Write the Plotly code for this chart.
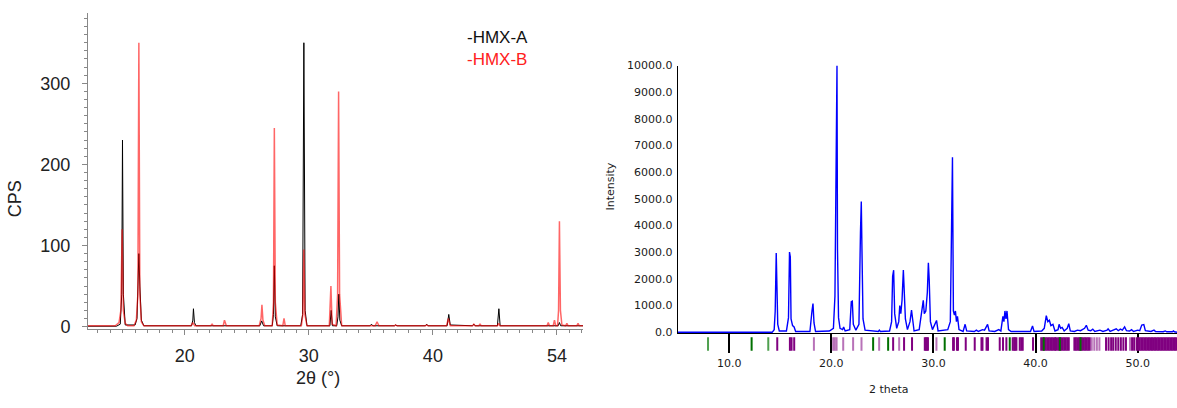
import plotly.graph_objects as go

# ---------------- Left panel: HMX-A / HMX-B (CPS vs 2theta) ----------------
hmx_a_2theta = [12.2, 14.5, 14.8, 14.92, 14.98, 15.05, 15.2, 16.0, 16.15, 16.25, 16.3, 16.38, 16.5, 16.7,
                20.55, 20.65, 20.7, 20.78, 20.9, 26.05, 26.2, 26.35, 27.05, 27.15, 27.22, 27.3, 27.45,
                29.35, 29.5, 29.6, 29.7, 29.85, 31.7, 31.8, 31.9, 32.25, 32.35, 32.42, 32.5, 32.65,
                34.95, 35.05, 35.15, 36.9, 37.0, 37.1, 39.4, 39.5, 39.6, 41.15, 41.28, 41.4,
                43.2, 43.3, 43.4, 45.2, 45.32, 45.42, 50.1, 50.2, 50.3, 52.1]
hmx_a_cps = [0.5, 0.5, 3, 40, 230, 40, 2, 2, 10, 60, 90, 50, 8, 1,
             1, 8, 22, 5, 1, 1, 7, 1, 1, 15, 75, 12, 1,
             1, 15, 350, 20, 1, 1, 20, 1, 1, 12, 40, 8, 1,
             1, 3, 1, 1, 2, 1, 1, 3, 1, 1, 15, 2,
             1, 3, 1, 1, 22, 1, 1, 5, 1, 1]

hmx_b_2theta = [12.2, 14.4, 14.7, 14.85, 14.95, 15.05, 15.2, 15.4, 15.9, 16.1, 16.22, 16.3, 16.38, 16.5, 16.7,
                20.5, 20.65, 20.8, 22.1, 22.2, 22.3, 23.1, 23.2, 23.35,
                26.0, 26.15, 26.22, 26.3, 26.45, 27.05, 27.15, 27.22, 27.3, 27.45, 27.9, 28.0, 28.1,
                29.4, 29.52, 29.6, 29.68, 29.85, 31.65, 31.78, 31.88, 32.2, 32.32, 32.4, 32.48, 32.65,
                35.35, 35.5, 35.65, 36.9, 37.0, 37.1, 39.4, 39.5, 39.6, 41.1, 41.25, 41.4,
                43.2, 43.3, 43.4, 43.7, 43.8, 43.9, 45.2, 45.3, 45.4,
                49.2, 49.3, 49.4, 49.7, 49.8, 49.9, 50.05, 50.13, 50.2, 50.28, 50.4,
                50.7, 50.8, 50.9, 51.6, 51.7, 51.8, 52.1]
hmx_b_cps = [1, 1, 5, 20, 120, 20, 4, 1, 1, 8, 40, 350, 40, 6, 1,
             1, 5, 1, 1, 3, 1, 1, 8, 1,
             1, 10, 27, 8, 1, 1, 30, 245, 30, 2, 1, 10, 1,
             1, 15, 95, 15, 1, 1, 50, 3, 1, 40, 290, 40, 1,
             1, 6, 1, 1, 2, 1, 1, 2, 1, 1, 10, 1,
             1, 3, 1, 1, 3, 1, 1, 4, 1,
             1, 5, 1, 1, 8, 1, 1, 20, 130, 20, 2,
             1, 4, 1, 1, 4, 1, 1]

left_ytick_vals = [0, 100, 200, 300]
left_xtick_vals = [20, 30, 40, 50]
left_xtick_text = ["20", "30", "40", "54"]

# ---------------- Right panel: Intensity vs 2 theta ----------------
pattern_2theta = [4.95, 14.2, 14.4, 14.5, 14.6, 14.65, 14.75, 14.9, 15.6, 15.8, 15.9, 15.98, 16.05, 16.2, 16.35, 16.5,
                  17.9, 18.1, 18.2, 18.3, 18.45, 19.8, 20.2, 20.35, 20.48, 20.55, 20.6, 20.7, 20.85, 21.1, 21.2, 21.35,
                  21.8, 21.95, 22.05, 22.15, 22.4, 22.7, 22.85, 22.93, 23.0, 23.1, 23.3, 24.6, 24.7, 24.8,
                  25.7, 25.9, 26.0, 26.1, 26.2, 26.4, 26.6, 26.7, 26.8, 26.92, 27.05, 27.15, 27.25, 27.45,
                  27.7, 27.85, 27.95, 28.1, 28.6, 28.9, 29.0, 29.1, 29.25, 29.4, 29.5, 29.58, 29.7, 29.9,
                  30.2, 30.3, 30.45, 31.4, 31.65, 31.78, 31.86, 31.95, 32.05, 32.15, 32.25, 32.35, 32.5,
                  32.9, 33.1, 33.25, 34.0, 34.2, 34.4, 34.8, 35.0, 35.3, 35.45, 36.0, 36.4, 36.6,
                  36.8, 36.9, 37.0, 37.1, 37.2, 37.35, 37.6, 39.5, 39.7, 39.85, 40.6, 40.85, 41.05, 41.2,
                  41.35, 41.5, 41.7, 41.9, 42.2, 42.3, 42.45, 42.6, 42.8, 43.1, 43.25, 43.4, 43.8, 44.1,
                  44.4, 44.8, 44.97, 45.15, 45.4, 45.6, 45.8, 46.3, 46.6, 47.0, 47.1, 47.3, 47.7, 47.9,
                  48.1, 48.3, 48.5, 48.72, 48.9, 49.2, 49.4, 49.6, 50.0, 50.2, 50.4, 50.6, 50.75, 51.0,
                  51.3, 51.6, 51.75, 52.5, 52.7, 52.85, 53.4, 53.5, 53.6, 53.85]
pattern_intensity = [0, 0, 100, 800, 2970, 2170, 300, 50, 50, 550, 3010, 2820, 500, 250, 200, 30,
                     30, 800, 1080, 350, 30, 50, 150, 1350, 10000, 10000, 3100, 550, 150, 100, 200, 50,
                     100, 1150, 1170, 300, 80, 300, 3750, 4900, 3000, 500, 80, 30, 80, 30,
                     50, 400, 2100, 2330, 700, 150, 400, 1000, 700, 1200, 2330, 1530, 500, 100,
                     400, 830, 500, 50, 100, 1100, 1200, 700, 800, 1500, 2610, 2000, 400, 100,
                     350, 445, 50, 100, 400, 4680, 6560, 800, 650, 800, 400, 600, 100,
                     30, 300, 50, 30, 80, 30, 100, 80, 300, 50, 30, 100, 50,
                     600, 400, 800, 500, 800, 100, 30, 30, 240, 30, 50, 150, 625, 400,
                     450, 250, 300, 50, 100, 300, 150, 180, 50, 150, 325, 50, 30, 80,
                     60, 150, 265, 80, 60, 120, 30, 80, 30, 80, 130, 30, 80, 130,
                     60, 120, 80, 200, 60, 50, 100, 30, 80, 60, 270, 290, 60, 40,
                     30, 80, 30, 20, 50, 20, 20, 50, 20, 0]

right_ytick_vals = [0, 1000, 2000, 3000, 4000, 5000, 6000, 7000, 8000, 9000, 10000]
right_xtick_vals = [10, 20, 30, 40, 50]

# reflection markers
refl_green_dark = [12.19, 24.09, 25.56, 31.1, 37.47, 40.8, 42.38, 44.4]
refl_green_light = [7.92, 13.82]
refl_purple_light = [18.29, 20.18, 20.34, 20.51, 21.16, 22.13, 22.95, 24.68, 26.64, 30.29,
                     45.5, 45.75, 46.0, 46.25, 49.25]
refl_purple_dark = [14.70, 15.94, 16.1, 16.36, 26.05, 27.12, 27.9, 29.15, 29.25, 29.35, 29.46,
                    31.92, 32.0, 32.3, 32.4, 33.16, 34.04, 34.7, 34.8, 35.2, 35.34, 36.49, 36.81, 37.14,
                    37.76, 37.9, 38.0, 38.12, 38.45, 38.6, 38.74, 39.75,
                    40.55, 40.7, 40.85, 41.0, 41.15, 41.3, 41.45, 41.6, 41.75, 41.9, 42.0,
                    42.2, 42.35, 42.5, 42.65, 42.8, 42.95, 43.1, 43.25,
                    43.8, 43.95, 44.1, 44.25, 44.4, 44.55, 44.7, 44.85, 45.0, 45.15, 45.3,
                    46.9, 47.15, 47.4, 47.6, 47.85, 48.1, 48.35, 48.6, 48.85, 49.45, 49.65,
                    49.9, 50.05, 50.2, 50.35, 50.5, 50.65, 50.8, 50.95, 51.1, 51.25, 51.4, 51.55,
                    51.7, 51.85, 52.0, 52.15, 52.3, 52.45, 52.6, 52.75, 52.9, 53.05, 53.2, 53.35,
                    53.5, 53.65, 53.8]

W, H = 1177, 408
fig = go.Figure()

# left traces
fig.add_trace(go.Scatter(x=hmx_a_2theta, y=hmx_a_cps, mode="lines",
                         line=dict(color="black", width=1), xaxis="x", yaxis="y", showlegend=False))
fig.add_trace(go.Scatter(x=hmx_b_2theta, y=hmx_b_cps, mode="lines",
                         line=dict(color="rgba(255,0,0,0.6)", width=1.5), xaxis="x", yaxis="y", showlegend=False))

# right trace
fig.add_trace(go.Scatter(x=pattern_2theta, y=pattern_intensity, mode="lines",
                         line=dict(color="#0000ff", width=1.4), xaxis="x2", yaxis="y2", showlegend=False))

def marks(xs, color):
    return go.Scatter(x=xs, y=[0.5] * len(xs), mode="markers", xaxis="x3", yaxis="y3",
                      marker=dict(symbol="line-ns", size=13, line=dict(color=color, width=2)),
                      showlegend=False, hoverinfo="x")

fig.add_trace(marks(refl_purple_light, "#b872b8"))
fig.add_trace(marks(refl_purple_dark, "#800080"))
fig.add_trace(marks(refl_green_light, "#4fa04f"))
fig.add_trace(marks(refl_green_dark, "#007000"))

left_font = dict(family="Liberation Sans, Arial", size=18, color="#222")
right_font = dict(family="DejaVu Sans, Verdana", size=11, color="#1a1a1a")

fig.update_layout(
    width=W, height=H, margin=dict(l=0, r=0, t=0, b=0),
    paper_bgcolor="white", plot_bgcolor="white",
    xaxis=dict(domain=[88 / W, 583 / W], range=[12.2, 52.1], anchor="y",
               showline=True, linecolor="#888", linewidth=1, showgrid=False, zeroline=False,
               ticks="outside", ticklen=5, tickcolor="#888", tickvals=left_xtick_vals,
               ticktext=left_xtick_text, tickfont=left_font, ticklabelstandoff=6,
               minor=dict(ticks="outside", dtick=1, tick0=0, ticklen=3, tickcolor="#888", showgrid=False)),
    yaxis=dict(domain=[1 - 334 / H, 1 - 7 / H], range=[-2.4, 387], anchor="x",
               showline=True, linecolor="#888", linewidth=1, showgrid=False, zeroline=False,
               ticks="outside", ticklen=5, tickcolor="#888", tickvals=left_ytick_vals,
               tickfont=left_font, ticklabelstandoff=8,
               minor=dict(ticks="outside", dtick=10, tick0=0, ticklen=3, tickcolor="#888", showgrid=False)),
    xaxis2=dict(domain=[677.7 / W, 1.0], range=[4.95, 53.85], anchor="y2",
                showline=True, linecolor="black", linewidth=1, showgrid=False, zeroline=False,
                ticks="outside", ticklen=19, tickwidth=1.5, tickcolor="black",
                tickvals=right_xtick_vals, tickformat=".1f", tickfont=right_font),
    yaxis2=dict(domain=[1 - 339 / H, 1 - 61.7 / H], range=[-40, 10000], anchor="x2",
                showline=True, linecolor="black", linewidth=1, showgrid=False, zeroline=False,
                ticks="", tickvals=right_ytick_vals, tickformat=".1f", tickfont=right_font,
                ticklabelstandoff=2),
    xaxis3=dict(domain=[677.7 / W, 1.0], matches="x2", anchor="y3", visible=False),
    yaxis3=dict(domain=[1 - 357 / H, 1 - 343 / H], range=[0, 1], anchor="x3", visible=False),
    annotations=[
        dict(text="CPS", x=15 / W, y=1 - 200 / H, xref="paper", yref="paper", textangle=-90,
             showarrow=False, font=left_font, xanchor="center", yanchor="middle"),
        dict(text="2θ (°)", x=318 / W, y=1 - 385 / H, xref="paper", yref="paper",
             showarrow=False, font=left_font, xanchor="center", yanchor="middle"),
        dict(text="-HMX-A", x=497 / W, y=1 - 33 / H, xref="paper", yref="paper", showarrow=False,
             font=dict(family="Liberation Sans, Arial", size=17, color="#111"), xanchor="center", yanchor="middle"),
        dict(text="-HMX-B", x=497 / W, y=1 - 55 / H, xref="paper", yref="paper", showarrow=False,
             font=dict(family="Liberation Sans, Arial", size=17, color="#ff2020"), xanchor="center", yanchor="middle"),
        dict(text="Intensity", x=611 / W, y=1 - 187 / H, xref="paper", yref="paper", textangle=-90,
             showarrow=False, font=right_font, xanchor="center", yanchor="middle"),
        dict(text="2 theta", x=889 / W, y=1 - 397 / H, xref="paper", yref="paper",
             showarrow=False, font=right_font, xanchor="center", yanchor="middle"),
    ],
)

fig.write_html("out.html")
